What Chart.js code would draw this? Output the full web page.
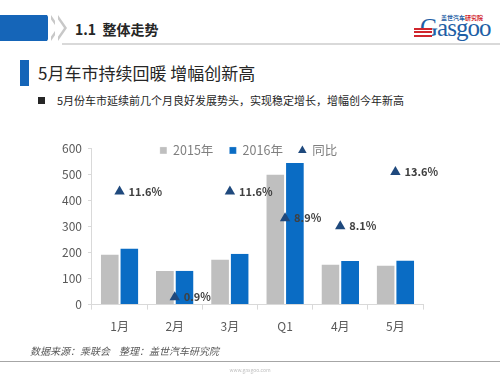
<!DOCTYPE html>
<html>
<head>
<meta charset="utf-8">
<script src="https://cdn.jsdelivr.net/npm/chart.js@4.4.0/dist/chart.umd.min.js"></script>
<style>
  body { margin: 0; width: 500px; height: 375px; background: #fff; position: relative; overflow: hidden;
         font-family: "Noto Sans CJK SC", "Noto Sans", sans-serif; }
  .abs { position: absolute; }
  #band { left: 0; top: 15px; width: 47px; height: 26px; background: #1565B8; }
  #bandTip { left: 47px; top: 15px; width: 0; height: 0; border-top: 13px solid transparent;
             border-bottom: 13px solid transparent; border-left: 7px solid #1565B8; }
  .chev { top: 15px; width: 0; height: 0; border-top: 13px solid transparent; border-bottom: 13px solid transparent;
          border-left: 9px solid #c8c8c8; }
  .chevW { top: 15px; width: 0; height: 0; border-top: 13px solid transparent; border-bottom: 13px solid transparent;
           border-left: 9px solid #fff; }
  #hline { left: 62px; top: 43px; width: 438px; height: 2px; background: #d9d9d9; }
  #sec { left: 75px; top: 19px; font-size: 14px; font-weight: bold; color: #262626; }
  #vbar { left: 20px; top: 60px; width: 9px; height: 26px; background: #1565B8; }
  #title { left: 38px; top: 60px; font-size: 17px; color: #262626; }
  #bullet { left: 38px; top: 97px; width: 7px; height: 7px; background: #262626; }
  #sub { left: 57px; top: 92px; font-size: 11px; color: #262626; }
  #src { left: 30px; top: 343px; font-size: 10px; color: #595959; font-style: italic; }
  #fline { left: 0; top: 361px; width: 500px; height: 1px; background: #a6a6a6; }
  #www { left: 0; top: 366px; width: 500px; text-align: center; font-size: 5px; color: #bfbfbf; }
  #logoS { left: 441px; top: 13px; font-size: 6px; font-weight: bold; color: #1F5FA6; }
  #logoS span { color: #D0262D; }
  #logoG { left: 420px; top: 14px; font-family: "Liberation Serif", serif; font-size: 25px; color: #1F5FA6; letter-spacing: -1px; }
  #stripes { left: 414px; top: 28px; width: 18px; height: 10px;
             background: repeating-linear-gradient(#D0262D 0 2px, #fff 2px 3.5px); }
  #wrap { left: 40px; top: 135px; width: 400px; height: 209px; }
</style>
</head>
<body>
<div class="abs" id="band"></div>
<div class="abs" id="bandTip"></div>
<div class="abs chev" style="left:51px"></div>
<div class="abs chevW" style="left:48px"></div>
<div class="abs chev" style="left:58px"></div>
<div class="abs chevW" style="left:55px"></div>
<div class="abs" id="hline"></div>
<div class="abs" id="sec">1.1&nbsp; 整体走势</div>
<div class="abs" id="logoG">Gasgoo</div>
<div class="abs" id="stripes"></div>
<div class="abs" id="logoS">盖世汽车<span>研究院</span></div>
<div class="abs" id="vbar"></div>
<div class="abs" id="title">5月车市持续回暖 增幅创新高</div>
<div class="abs" id="bullet"></div>
<div class="abs" id="sub">5月份车市延续前几个月良好发展势头，实现稳定增长，增幅创今年新高</div>
<div class="abs" id="wrap"><canvas id="c" width="400" height="209"></canvas></div>
<div class="abs" id="src">数据来源：乘联会&nbsp;&nbsp;&nbsp;&nbsp;整理：盖世汽车研究院</div>
<div class="abs" id="fline"></div>
<div class="abs" id="www">www.gasgoo.com</div>

<script>
// data
const categories = ['1月', '2月', '3月', 'Q1', '4月', '5月'];
const sales2015 = [192, 129, 173, 499, 154, 150];
const sales2016 = [215, 130, 195, 543, 167, 169];
const growth = [11.6, 0.9, 11.6, 8.9, 8.1, 13.6];
const yTicks = [0, 100, 200, 300, 400, 500, 600];

const FONT = '"Noto Sans CJK SC", "Noto Sans", sans-serif';

// growth labels next to the triangles
const growthLabels = {
  id: 'growthLabels',
  afterDatasetsDraw(chart) {
    const ctx = chart.ctx;
    const meta = chart.getDatasetMeta(2);
    ctx.save();
    ctx.font = 'bold 11px ' + FONT;
    ctx.fillStyle = '#404040';
    ctx.textBaseline = 'middle';
    meta.data.forEach((pt, i) => {
      ctx.fillText(growth[i].toFixed(1) + '%', pt.x + 9, pt.y);
    });
    ctx.restore();
  }
};

// legend sits over the top of the plot, so it takes no room
const flatLegend = {
  id: 'flatLegend',
  beforeInit(chart) {
    const lg = chart.legend;
    const fit = lg.fit;
    lg.fit = function () {
      fit.call(lg);
      lg.height = 0;
    };
    lg.draw = function () {};
  },
  afterDatasetsDraw(chart) {
    const ctx = chart.ctx;
    ctx.save();
    ctx.translate(9, -20);
    chart.legend._draw();
    ctx.restore();
  }
};

new Chart(document.getElementById('c'), {
  type: 'bar',
  data: {
    labels: categories,
    datasets: [
      { label: '2015年', data: sales2015, backgroundColor: '#BFBFBF', borderColor: '#fff',
        borderWidth: { left: 0, right: 1, top: 0, bottom: 0 }, order: 1,
        barPercentage: 1.0, categoryPercentage: 0.68, pointStyle: 'rect' },
      { label: '2016年', data: sales2016, backgroundColor: '#0A6CC4', borderColor: '#fff',
        borderWidth: { left: 1, right: 0, top: 0, bottom: 0 }, order: 1,
        barPercentage: 1.0, categoryPercentage: 0.68, pointStyle: 'rect' },
      { type: 'line', label: '同比', data: growth, yAxisID: 'y1', showLine: false, order: 0,
        pointStyle: 'triangle', pointRadius: 6, backgroundColor: '#1F497D', borderColor: '#1F497D',
        pointBorderWidth: 0 }
    ]
  },
  options: {
    responsive: false,
    animation: false,
    layout: { padding: { left: 16, right: 17, top: 2, bottom: 0 } },
    plugins: {
      tooltip: { enabled: false },
      legend: {
        position: 'top',
        align: 'center',
        labels: {
          usePointStyle: true, boxWidth: 7, boxHeight: 7, padding: 16,
          color: '#7f7f7f', font: { family: FONT, size: 12.5 },
          sort: (a, b) => a.datasetIndex - b.datasetIndex
        }
      }
    },
    scales: {
      x: {
        grid: { display: true, drawOnChartArea: false, offset: true, color: '#D9D9D9', tickLength: 5 },
        border: { color: '#D9D9D9' },
        ticks: { color: '#595959', font: { family: FONT, size: 12 }, padding: 10 }
      },
      y: {
        min: 0, max: 600,
        afterBuildTicks: ax => { ax.ticks = yTicks.map(v => ({ value: v })); },
        grid: { display: true, drawOnChartArea: false, color: '#D9D9D9', tickLength: 4 },
        border: { color: '#D9D9D9' },
        ticks: { color: '#595959', font: { family: FONT, size: 12 }, padding: 6 }
      },
      y1: { display: false, min: 0.15, max: 16 }
    }
  },
  plugins: [growthLabels, flatLegend]
});
</script>
</body>
</html>
